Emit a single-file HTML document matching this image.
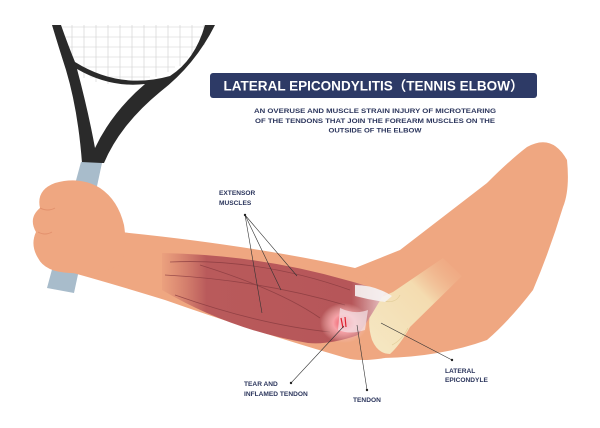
<!DOCTYPE html>
<html><head><meta charset="utf-8"><style>
html,body{margin:0;padding:0;background:#fff;width:600px;height:428px;overflow:hidden}
svg{display:block}
text{font-family:"Liberation Sans","Noto Sans CJK SC",sans-serif;font-weight:bold;fill:#2b355c}
</style></head><body>
<svg width="600" height="428" viewBox="0 0 600 428" xmlns="http://www.w3.org/2000/svg">
<defs>
<radialGradient id="inf" cx="0.5" cy="0.5" r="0.5">
<stop offset="0" stop-color="#f04a5a"/><stop offset="0.45" stop-color="#f6a0a6"/><stop offset="1" stop-color="#f7c6c0" stop-opacity="0"/>
</radialGradient>
<linearGradient id="mus" x1="0" x2="1" y1="0" y2="0">
<stop offset="0" stop-color="#c86a62" stop-opacity="0.1"/><stop offset="0.2" stop-color="#b95a5b"/><stop offset="0.85" stop-color="#b65659"/><stop offset="1" stop-color="#e9c6c8"/>
</linearGradient>
<linearGradient id="bone" x1="0" x2="1" y1="1" y2="0">
<stop offset="0" stop-color="#f5e8c4"/><stop offset="0.6" stop-color="#f4dcb0"/><stop offset="1" stop-color="#f0a882" stop-opacity="0"/>
</linearGradient>
</defs>
<!-- racket strings -->
<g stroke="#cfcfcf" stroke-width="0.6">
<path d="M60 27 L210 27 M63 37 L205 37 M67 47 L198 47 M71 57 L188 57 M76 67 L175 67 M90 77 L150 77"/>
<path d="M72 25 V70 M84 25 V78 M96 25 V82 M108 25 V84 M120 25 V84 M132 25 V83 M144 25 V80 M156 25 V77 M168 25 V72 M180 25 V66 M192 25 V58 M204 25 V45"/>
</g>
<!-- racket frame -->
<path d="M52 25 L61 25 Q68 45 75 62 Q120 90 170 76 Q195 60 205 25 L215 25 Q195 65 160 92 Q120 125 104 163 L82 163 Q78 110 66 70 Q58 45 52 25 Z M77 69 Q88 110 95 148 Q112 112 145 84 Q110 88 77 69 Z" fill="#2a2a2a" fill-rule="evenodd"/>
<!-- handle -->
<path d="M81 162 L102 163 L74 293 L47 288 Z" fill="#a8bccb"/>
<!-- upper arm -->
<path d="M350 270 Q380 258 400 250 L487 183 Q510 160 527 147 Q552 133 567 160 Q570 190 563 207 Q550 250 533 290 Q510 320 487 340 Q440 357 383 358 L360 300 Z" fill="#efa781"/>
<!-- forearm -->
<path d="M120 232 Q250 245 355 268 L395 300 L385 358 Q360 362 346 358 Q250 330 165 300 Q100 280 55 268 Z" fill="#efa781"/>
<!-- hand -->
<path d="M55 183 Q80 176 100 188 Q118 200 124 225 Q128 250 120 265 Q100 275 70 273 Q45 272 38 258 Q30 245 36 232 Q28 218 40 208 Q36 190 55 183 Z" fill="#efa781"/>
<path d="M38 232 Q45 236 52 232 M40 208 Q48 212 55 208" stroke="#e2906c" fill="none" stroke-width="1"/>
<!-- bone -->
<path d="M393 292 L443 258 L462 276 L410 327 Q400 345 390 354 Q378 354 372 340 Q365 318 375 300 Z" fill="url(#bone)"/>
<path d="M380 300 Q395 305 400 295 M392 345 Q402 340 408 328" stroke="#e4cf9c" fill="none" stroke-width="0.8"/>
<!-- muscle -->
<path d="M162 253 Q260 255 346 280 Q365 285 385 292 Q370 318 358 335 Q330 345 308 343 Q230 330 162 290 Z" fill="url(#mus)"/>
<g stroke="#8a3c40" stroke-width="0.8" fill="none" opacity="0.8">
<path d="M170 262 Q260 258 350 290"/><path d="M165 275 Q260 280 345 305"/><path d="M175 295 Q260 325 330 332"/><path d="M200 265 Q280 290 320 318"/>
</g>
<!-- white tendon -->
<path d="M355 285 Q375 285 392 296 L385 302 Q370 300 355 296 Z" fill="#f6f3f3" opacity="0.9"/>
<ellipse cx="344" cy="323" rx="24" ry="20" fill="url(#inf)"/>
<path d="M340 308 Q355 315 368 310 L365 330 Q350 335 338 330 Z" fill="#f5e6ea" opacity="0.7"/>
<path d="M341 318 L343 328 M345 317 L346 327" stroke="#e0202e" stroke-width="1.2"/>
<!-- title -->
<rect x="210" y="73" width="327" height="25" rx="3" fill="#2d3a66"/>
<text x="373.5" y="90.5" text-anchor="middle" font-size="13.5" style="fill:#fff" textLength="300" lengthAdjust="spacingAndGlyphs">LATERAL EPICONDYLITIS（TENNIS ELBOW）</text>
<text x="375" y="113" text-anchor="middle" font-size="6.8" textLength="242" lengthAdjust="spacingAndGlyphs">AN OVERUSE AND MUSCLE STRAIN INJURY OF MICROTEARING</text>
<text x="375" y="123" text-anchor="middle" font-size="6.8" textLength="240" lengthAdjust="spacingAndGlyphs">OF THE TENDONS THAT JOIN THE FOREARM MUSCLES ON THE</text>
<text x="375" y="132.5" text-anchor="middle" font-size="6.8" textLength="93" lengthAdjust="spacingAndGlyphs">OUTSIDE OF THE ELBOW</text>
<!-- labels -->
<g font-size="6.6">
<text x="219" y="195">EXTENSOR</text><text x="219" y="205">MUSCLES</text>
<text x="244" y="386">TEAR AND</text><text x="244" y="396">INFLAMED TENDON</text>
<text x="353" y="402">TENDON</text>
<text x="445" y="373">LATERAL</text><text x="445" y="382">EPICONDYLE</text>
</g>
<g stroke="#333" stroke-width="0.6" fill="none">
<path d="M245 215 L262 313 M245 215 L281 290 M245 215 L297 276"/>
<path d="M291 383 L344 326"/>
<path d="M367 390 L357 325"/>
<path d="M452 360 L381 323"/>
</g>
<g fill="#222"><circle cx="245" cy="215" r="1.2"/><circle cx="291" cy="383" r="1.2"/><circle cx="367" cy="390" r="1.2"/><circle cx="452" cy="360" r="1.2"/></g>
</svg>
</body></html>
